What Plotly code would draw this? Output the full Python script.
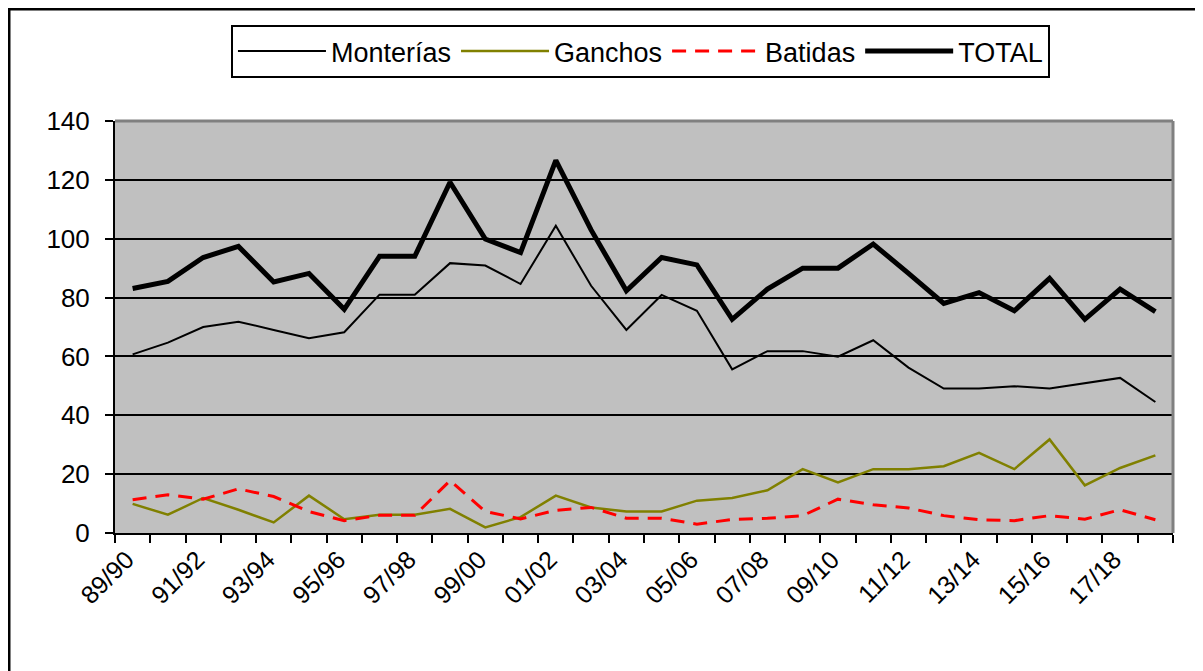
import plotly.graph_objects as go

seasons = ["89/90", "90/91", "91/92", "92/93", "93/94", "94/95", "95/96", "96/97",
           "97/98", "98/99", "99/00", "00/01", "01/02", "02/03", "03/04", "04/05",
           "05/06", "06/07", "07/08", "08/09", "09/10", "10/11", "11/12", "12/13",
           "13/14", "14/15", "15/16", "16/17", "17/18", "18/19"]

monterias = [60.7, 64.7, 70.0, 71.8, 69.0, 66.2, 68.2, 81.0, 81.0, 91.7,
             90.9, 84.6, 104.4, 84.0, 69.0, 80.9, 75.5, 55.6, 61.8, 61.8,
             59.9, 65.5, 56.2, 49.1, 49.1, 49.9, 49.1, 51.0, 52.7, 44.5]

ganchos = [9.9, 6.2, 11.9, 7.9, 3.6, 12.7, 4.7, 6.2, 6.2, 8.2,
           1.9, 5.4, 12.7, 8.7, 7.3, 7.3, 11.0, 11.9, 14.5, 21.7,
           17.2, 21.7, 21.7, 22.7, 27.2, 21.7, 31.8, 16.2, 22.1, 26.4]

batidas = [11.3, 13.0, 11.5, 15.0, 12.4, 7.3, 4.2, 6.0, 6.0, 17.8,
           7.3, 4.8, 7.7, 8.7, 5.0, 5.0, 3.0, 4.6, 5.0, 5.9,
           11.5, 9.6, 8.5, 5.9, 4.5, 4.2, 5.9, 4.7, 7.9, 4.5]

total = [83.1, 85.5, 93.6, 97.4, 85.3, 88.2, 76.0, 94.0, 94.0, 119.2,
         99.9, 95.3, 126.6, 103.0, 82.3, 93.6, 91.1, 72.6, 82.9, 90.0,
         90.0, 98.2, 88.2, 78.0, 81.7, 75.5, 86.5, 72.6, 82.9, 75.2]

yticks = [0, 20, 40, 60, 80, 100, 120, 140]

xidx = list(range(len(seasons)))
FONT = "Arial, Liberation Sans, sans-serif"

fig = go.Figure()
fig.add_trace(go.Scatter(x=xidx, y=monterias, name="Monterías", mode="lines",
                         line=dict(color="black", width=2)))
fig.add_trace(go.Scatter(x=xidx, y=ganchos, name="Ganchos", mode="lines",
                         line=dict(color="#808000", width=2.5)))
fig.add_trace(go.Scatter(x=xidx, y=batidas, name="Batidas", mode="lines",
                         line=dict(color="#FF0000", width=3, dash="14px,9px")))
fig.add_trace(go.Scatter(x=xidx, y=total, name="TOTAL", mode="lines",
                         line=dict(color="black", width=5)))

fig.update_layout(
    width=1195, height=663,
    margin=dict(l=107, r=30, t=113, b=138, autoexpand=False),
    paper_bgcolor="white",
    plot_bgcolor="#C0C0C0",
    font=dict(family=FONT, color="black", size=26),
    showlegend=True,
    legend=dict(orientation="h", x=0.1096, y=1.233, xanchor="left", yanchor="top",
                bgcolor="white", bordercolor="black", borderwidth=2,
                font=dict(size=27, family=FONT), itemwidth=88,
                traceorder="normal"),
    xaxis=dict(range=[-0.5, len(seasons) - 0.5], tickmode="array",
               tickvals=xidx[::2], ticktext=seasons[::2], tickangle=-45,
               ticks="", showgrid=False, zeroline=False,
               showline=True, linecolor="black", linewidth=2,
               tickfont=dict(size=25), automargin=False, ticklabelshift=-6,
               minor=dict(ticks="outside", tick0=-0.5, dtick=1, ticklen=8,
                          tickwidth=2, tickcolor="black", showgrid=False)),
    yaxis=dict(range=[0, 140], tickmode="array", tickvals=yticks,
               ticks="outside", ticklen=8, tickwidth=2, tickcolor="black",
               ticklabelstandoff=10,
               showgrid=True, gridcolor="black", gridwidth=2,
               zeroline=False, showline=True, linecolor="black", linewidth=2,
               tickfont=dict(size=26), automargin=False),
)

# plot-area frame (top and right in gray, as in the original)
fig.add_shape(type="line", xref="paper", yref="paper", x0=0, x1=1, y0=1, y1=1,
              line=dict(color="#808080", width=3), layer="above")
fig.add_shape(type="line", xref="paper", yref="paper", x0=1, x1=1, y0=0, y1=1,
              line=dict(color="#808080", width=3), layer="above")
# outer chart border
fig.add_shape(type="rect", xref="paper", yref="paper", x0=-0.1002, x1=1.2,
              y0=-0.6, y1=1.2718, line=dict(color="black", width=3), layer="below")

fig.write_html("out.html")
